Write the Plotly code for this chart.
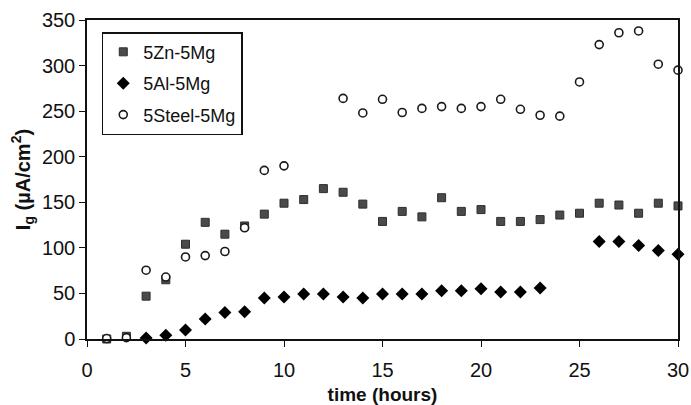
import plotly.graph_objects as go

# Galvanic current density I_g (µA/cm²) against time (hours) for each couple
zn_hours = list(range(1, 31))
zn_mg = [0, 3, 47, 65, 104, 128, 115, 124, 137, 149, 153, 165, 161, 148, 129,
         140, 134, 155, 140, 142, 129, 129, 131, 136, 138, 149, 147, 138, 149, 146]

al_hours = [3, 4, 5, 6, 7, 8, 9, 10, 11, 12, 13, 14, 15, 16, 17, 18, 19, 20, 21,
            22, 23, 26, 27, 28, 29, 30]
al_mg = [1, 4, 10, 22, 29, 30, 45, 46, 49.5, 49.5, 46, 45, 49.5, 49.5, 49.5, 53,
         53, 55, 51.5, 51.5, 56, 107, 107, 102.5, 97, 93]

steel_hours = [1, 2, 3, 4, 5, 6, 7, 8, 9, 10, 13, 14, 15, 16, 17, 18, 19, 20, 21,
               22, 23, 24, 25, 26, 27, 28, 29, 30]
steel_mg = [0.5, 1.5, 75.5, 68, 90, 91.5, 96, 122, 185, 190, 264, 248, 263, 248.5,
            253, 255, 253, 255, 263, 252, 245.5, 244.5, 282, 323, 336, 338, 301.5, 295]

x_ticks = [0, 5, 10, 15, 20, 25, 30]
y_ticks = [0, 50, 100, 150, 200, 250, 300, 350]

FONT = "Liberation Sans, Arial, sans-serif"
INK = "#111111"

fig = go.Figure()
fig.add_trace(go.Scatter(
    x=zn_hours, y=zn_mg, mode="markers", name="5Zn-5Mg", cliponaxis=False,
    legendgroup="zn",
    marker=dict(symbol="square", size=8, color="#4a4a4a",
                line=dict(color="#2e2e2e", width=1)),
))
fig.add_trace(go.Scatter(
    x=al_hours, y=al_mg, mode="markers", name="5Al-5Mg", cliponaxis=False,
    legendgroup="al",
    marker=dict(symbol="diamond", size=10, color="#000000",
                line=dict(color="#000000", width=0)),
))
fig.add_trace(go.Scatter(
    x=steel_hours, y=steel_mg, mode="markers", name="5Steel-5Mg", cliponaxis=False,
    legendgroup="steel",
    marker=dict(symbol="circle", size=8, color="#ffffff",
                line=dict(color="#1a1a1a", width=1.6)),
))

axis_common = dict(
    showline=True, linecolor=INK, linewidth=1.5, mirror=True,
    showgrid=False, zeroline=False, ticks="outside", ticklen=6,
    tickwidth=1.3, tickcolor=INK, automargin=False,
    tickfont=dict(family=FONT, size=20, color=INK),
)

fig.update_layout(
    width=691, height=405,
    margin=dict(l=87, r=13, t=20, b=66, pad=0),
    paper_bgcolor="white", plot_bgcolor="white",
    font=dict(family=FONT, color=INK),
    showlegend=True,
    legend=dict(
        x=0.025, y=0.962, xanchor="left", yanchor="top",
        bgcolor="white", bordercolor=INK, borderwidth=1.5,
        font=dict(family=FONT, size=18, color=INK),
        itemwidth=30, tracegroupgap=5,
    ),
    xaxis=dict(
        range=[0, 30], tickvals=x_ticks, ticklabelstandoff=6,
        title=dict(text="<b>time (hours)</b>", standoff=12,
                   font=dict(family=FONT, size=19, color=INK)),
        **axis_common,
    ),
    yaxis=dict(
        range=[0, 350], tickvals=y_ticks,
        title=dict(text="<b>I<sub>g</sub> (µA/cm<sup>2</sup>)</b>", standoff=6,
                   font=dict(family=FONT, size=20, color=INK)),
        **axis_common,
    ),
)

fig.write_html("out.html")
